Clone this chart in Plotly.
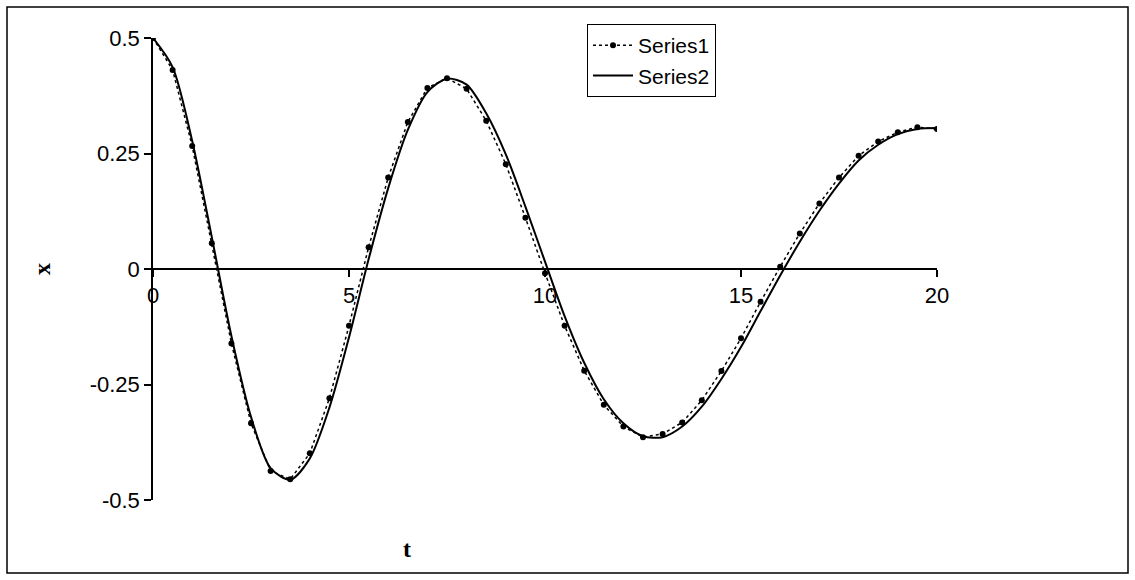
import plotly.graph_objects as go

# Series1: sampled every 0.5 (dotted line with markers)
t1 = [i * 0.5 for i in range(41)]
s1 = [0.500, 0.431, 0.266, 0.056, -0.161, -0.334, -0.437, -0.455, -0.399, -0.280,
      -0.123, 0.047, 0.198, 0.318, 0.392, 0.413, 0.390, 0.321, 0.227, 0.111,
      -0.009, -0.123, -0.220, -0.294, -0.341, -0.364, -0.357, -0.332, -0.284, -0.221,
      -0.150, -0.071, 0.005, 0.077, 0.142, 0.198, 0.245, 0.276, 0.296, 0.307,
      0.303]

# Series2: smooth solid curve (read at 0.5 steps)
t2 = [i * 0.5 for i in range(41)]
s2 = [0.500, 0.437, 0.277, 0.069, -0.145, -0.320, -0.431, -0.456, -0.410, -0.300,
      -0.148, 0.021, 0.175, 0.301, 0.383, 0.412, 0.399, 0.337, 0.248, 0.135,
      0.016, -0.102, -0.203, -0.282, -0.334, -0.362, -0.364, -0.341, -0.298, -0.238,
      -0.169, -0.091, -0.014, 0.059, 0.126, 0.185, 0.235, 0.269, 0.292, 0.303,
      0.305]

x_ticks = [0, 5, 10, 15, 20]
x_ticktext = ["0", "5", "10", "15", "20"]
y_ticks = [0.5, 0.25, 0, -0.25, -0.5]
y_ticktext = ["0.5", "0.25", "0", "-0.25", "-0.5"]

fig = go.Figure()
fig.add_trace(go.Scatter(
    x=t1, y=s1, name="Series1", mode="lines+markers",
    line=dict(color="black", width=1.5, dash="dot"),
    marker=dict(color="black", size=6, symbol="circle"),
))
fig.add_trace(go.Scatter(
    x=t2, y=s2, name="Series2", mode="lines",
    line=dict(color="black", width=2, shape="spline", smoothing=0.8),
))

L, R, T, B = 153, 937, 38, 500
W, H = 1135, 580
pw, ph = R - L, B - T

def px(xp):
    return (xp - L) / pw

def py(yp):
    return (B - yp) / ph

fig.update_layout(
    width=W, height=H,
    margin=dict(l=L, r=W - R, t=T, b=H - B, pad=0),
    paper_bgcolor="white", plot_bgcolor="white",
    font=dict(family="Liberation Sans, Arial, sans-serif", color="black", size=22),
    showlegend=True,
    legend=dict(
        x=px(587), y=py(24), xanchor="left", yanchor="top",
        bordercolor="black", borderwidth=1, bgcolor="white",
        font=dict(size=21), tracegroupgap=0, itemwidth=40,
    ),
    xaxis=dict(
        range=[0, 20], tickvals=x_ticks, ticktext=x_ticktext,
        showgrid=False, zeroline=False, showline=True, linecolor="black", linewidth=1.5,
        ticks="outside", ticklen=7, tickwidth=1.5, tickcolor="black",
        anchor="free", position=0.5, tickfont=dict(size=22),
    ),
    yaxis=dict(
        range=[-0.5, 0.5], tickvals=y_ticks, ticktext=y_ticktext,
        showgrid=False, zeroline=False, showline=True, linecolor="black", linewidth=1.5,
        ticks="outside", ticklen=7, tickwidth=1.5, tickcolor="black",
        tickfont=dict(size=22),
    ),
    shapes=[dict(
        type="rect", xref="paper", yref="paper",
        x0=px(7), x1=px(1128), y0=py(573), y1=py(7),
        line=dict(color="black", width=1.5), fillcolor="rgba(0,0,0,0)", layer="below",
    )],
    annotations=[
        dict(text="<b>t</b>", xref="paper", yref="paper", x=px(407), y=py(549),
             xanchor="center", yanchor="middle", showarrow=False,
             font=dict(family="Liberation Serif, Times New Roman, serif", size=24)),
        dict(text="<b>x</b>", xref="paper", yref="paper", x=px(42), y=py(269),
             xanchor="center", yanchor="middle", showarrow=False, textangle=-90,
             font=dict(family="Liberation Serif, Times New Roman, serif", size=24)),
    ],
)

fig.write_html("out.html")
